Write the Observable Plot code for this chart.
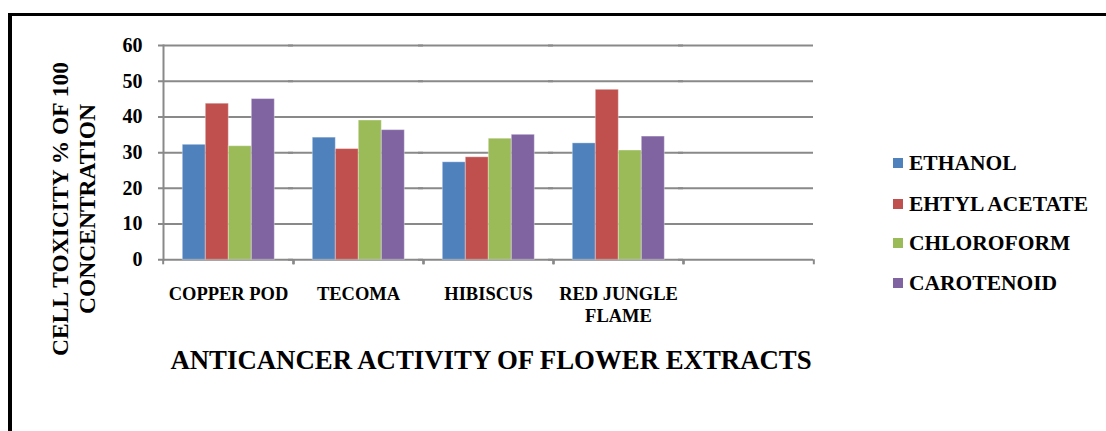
<!DOCTYPE html>
<html><head><meta charset="utf-8">
<script src="https://cdn.jsdelivr.net/npm/d3@7"></script>
<script src="https://cdn.jsdelivr.net/npm/@observablehq/plot@0.6"></script>
<style>
body{margin:0;background:#fff;}
#wrap{position:relative;width:1106px;height:431px;overflow:hidden;font-family:"Liberation Serif","Times New Roman",serif;font-weight:bold;color:#000;}
#wrap *{font-family:"Liberation Serif","Times New Roman",serif;}
#border{position:absolute;left:8px;top:13px;width:1200px;height:600px;border-left:4px solid #000;border-top:3px solid #000;}
#chart{position:absolute;left:0;top:0;}
#ytitle{position:absolute;left:74px;top:209px;transform:translate(-50%,-50%) rotate(-90deg);font-size:23.5px;line-height:27px;text-align:center;white-space:nowrap;}
#xtitle{position:absolute;left:491px;top:360px;transform:translate(-50%,-50%);font-size:26.8px;white-space:nowrap;}
#legend{position:absolute;left:893px;top:150px;}
.li{position:absolute;left:0;height:26px;display:flex;align-items:center;font-size:21.5px;white-space:nowrap;transform:translateY(-50%);}
.sw{width:10px;height:10px;margin-right:6px;flex:none;}
</style></head>
<body>
<div id="wrap">
  <div id="border"></div>
  <div id="chart"></div>
  <div id="ytitle">CELL TOXICITY % OF 100<br>CONCENTRATION</div>
  <div id="xtitle">ANTICANCER ACTIVITY OF FLOWER EXTRACTS</div>
  <div id="legend"></div>
</div>
<script>
const categories = ["COPPER POD", "TECOMA", "HIBISCUS", "RED JUNGLE FLAME"];
const emptySlot = " ";
const series = ["ETHANOL", "EHTYL ACETATE", "CHLOROFORM", "CAROTENOID"];
const ethanol = [32.2, 34.2, 27.3, 32.6];
const ethylAcetate = [43.7, 31.0, 28.7, 47.6];
const chloroform = [31.8, 39.0, 33.9, 30.6];
const carotenoid = [45.0, 36.3, 35.0, 34.5];
const yTicks = [0, 10, 20, 30, 40, 50, 60];
const colors = ["#4F81BD", "#C0504D", "#9BBB59", "#8064A2"];

const seriesValues = [ethanol, ethylAcetate, chloroform, carotenoid];
const data = [];
categories.forEach((c, i) => series.forEach((s, j) => data.push({category: c, series: s, value: seriesValues[j][i]})));
const slots = [...categories, emptySlot];
const gridData = slots.flatMap((s) => yTicks.map((t) => ({slot: s, tick: t})));

const W = 1106, H = 431, ML = 161.7, MR = 291, MT = 45, MB = 171.7;
const band = (W - ML - MR) / slots.length;
const grid = "#898989";
const serif = "'Liberation Serif','Times New Roman',serif";

const chart = Plot.plot({
  width: W, height: H,
  marginLeft: ML, marginRight: MR, marginTop: MT, marginBottom: MB,
  style: {fontFamily: serif, fontWeight: "bold", color: "#000", background: "transparent"},
  fx: {domain: slots, paddingInner: 0, paddingOuter: 0, label: null},
  x: {domain: series, paddingInner: 0, paddingOuter: 0.775, axis: null},
  y: {domain: [0, 60], label: null},
  color: {domain: series, range: colors},
  marks: [
    Plot.ruleY(gridData, {fx: "slot", y: "tick", stroke: grid, strokeWidth: 2, insetLeft: -5}),
    Plot.frame({facet: "super", anchor: "left", stroke: grid, strokeWidth: 2}),
    Plot.barY(data, {fx: "category", x: "series", y: "value", fill: "series", stroke: "#ffffff", strokeOpacity: 0.35, strokeWidth: 1}),
    Plot.axisY(yTicks, {anchor: "left", tickSize: 0, tickPadding: 21, fontSize: 20, fontWeight: "bold", fontFamily: serif, label: null}),
    Plot.axisFx({anchor: "bottom", tickSize: 0, tickPadding: 25, fontSize: 18.5, fontWeight: "bold", fontFamily: serif, lineWidth: 7, lineHeight: 1.17, label: null}),
    Plot.axisFx({anchor: "bottom", tickSize: 5, tickFormat: () => "", stroke: grid, strokeWidth: 2, dx: -band / 2, label: null}),
    Plot.axisFx([emptySlot], {anchor: "bottom", tickSize: 5, tickFormat: () => "", stroke: grid, strokeWidth: 2, dx: band / 2, label: null})
  ]
});
document.getElementById("chart").appendChild(chart);

const legend = document.getElementById("legend");
const rowY = [13, 54, 93, 133];
series.forEach((s, j) => {
  const row = document.createElement("div");
  row.className = "li";
  row.style.top = rowY[j] + "px";
  row.innerHTML = `<span class="sw" style="background:${colors[j]}"></span><span>${s}</span>`;
  legend.appendChild(row);
});
</script>
</body></html>
